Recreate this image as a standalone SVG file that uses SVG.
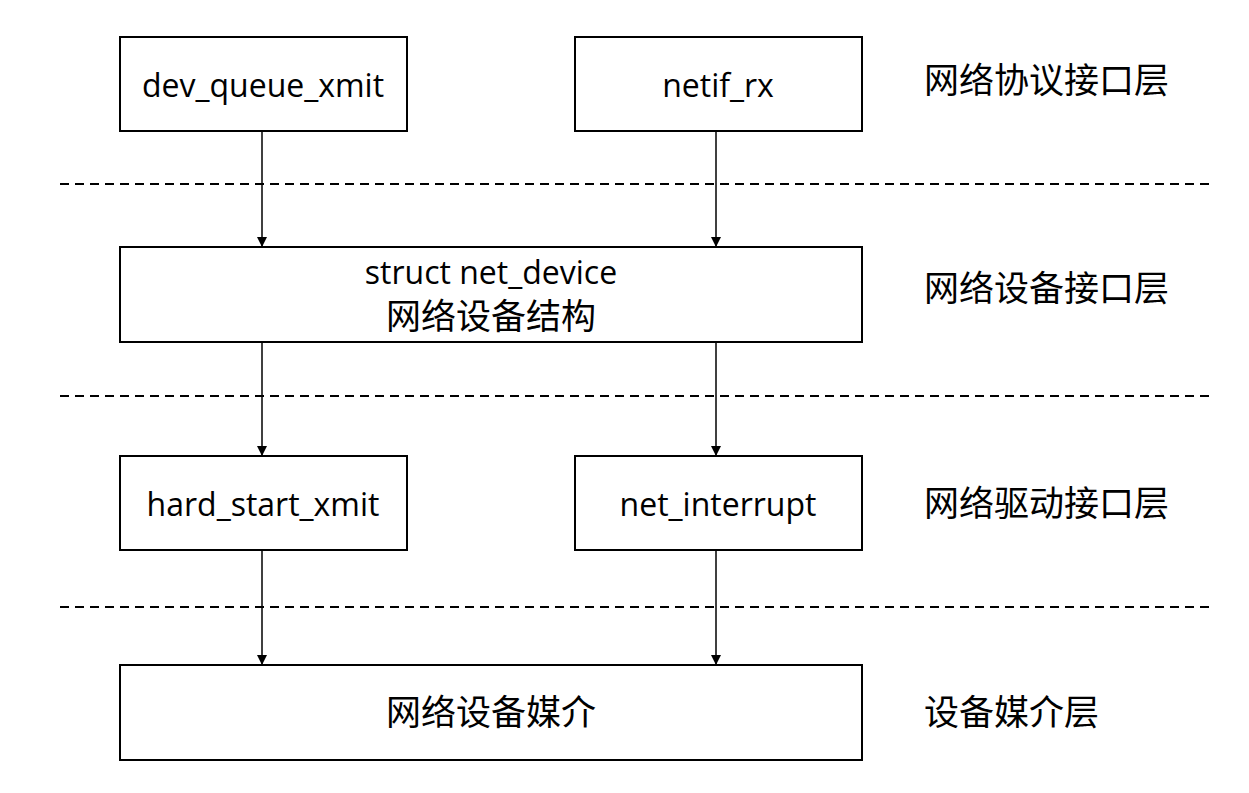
<svg xmlns="http://www.w3.org/2000/svg" width="1249" height="793" viewBox="0 0 1249 793">
<style>
.b{fill:#fff;stroke:#000;stroke-width:2}
.t{font-family:"Open Sans","Noto Sans CJK SC",sans-serif;font-size:32px;text-anchor:middle;fill:#000}
.z{font-family:"Noto Sans CJK SC",sans-serif;font-size:35px;text-anchor:middle;fill:#000}
.l{font-family:"Noto Sans CJK SC",sans-serif;font-size:35px;fill:#000}
.d{stroke:#000;stroke-width:2;stroke-dasharray:9,6}
.c{stroke:#000;stroke-width:1.5;fill:none;marker-end:url(#a)}
</style>
<defs><marker id="a" markerWidth="10" markerHeight="10" refX="9" refY="5" orient="auto" markerUnits="userSpaceOnUse"><path d="M0,0L10,5L0,10z"/></marker></defs>
<rect width="1249" height="793" fill="#fff"/>
<g id="dashes"><line class="d" x1="60" y1="184" x2="1215" y2="184"/><line class="d" x1="60" y1="396" x2="1215" y2="396"/><line class="d" x1="60" y1="607" x2="1215" y2="607"/></g>
<g id="connectors">
<path class="c" d="M262,131V246"/><path class="c" d="M716,131V246"/>
<path class="c" d="M262,342V455"/><path class="c" d="M716,342V455"/>
<path class="c" d="M262,550V664"/><path class="c" d="M716,550V664"/>
</g>
<g id="n1"><rect class="b" x="120" y="37" width="287" height="94"/><text class="t" x="263" y="97">dev_queue_xmit</text></g>
<g id="n2"><rect class="b" x="575" y="37" width="287" height="94"/><text class="t" x="718" y="97">netif_rx</text></g>
<g id="n3"><rect class="b" x="120" y="247" width="742" height="95"/><text class="t" x="491" y="284">struct net_device</text><text class="z" x="491" y="329">网络设备结构</text></g>
<g id="n4"><rect class="b" x="120" y="456" width="287" height="94"/><text class="t" x="263" y="516">hard_start_xmit</text></g>
<g id="n5"><rect class="b" x="575" y="456" width="287" height="94"/><text class="t" x="718" y="516">net_interrupt</text></g>
<g id="n6"><rect class="b" x="120" y="665" width="742" height="95"/><text class="z" x="491" y="725">网络设备媒介</text></g>
<g id="labels">
<text class="l" x="924" y="93">网络协议接口层</text>
<text class="l" x="924" y="301">网络设备接口层</text>
<text class="l" x="924" y="516">网络驱动接口层</text>
<text class="l" x="924" y="725">设备媒介层</text>
</g>
</svg>
